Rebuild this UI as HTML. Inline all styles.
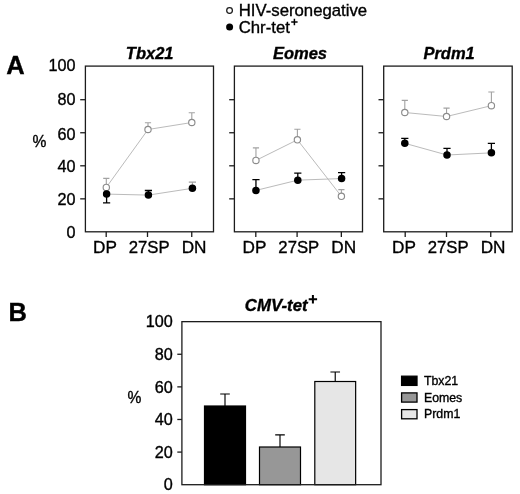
<!DOCTYPE html>
<html><head><meta charset="utf-8"><title>Figure</title>
<style>
html,body{margin:0;padding:0;background:#fff;}
svg{display:block;will-change:transform;}
text{font-family:"Liberation Sans",sans-serif;fill:#000;stroke:#000;stroke-width:0.35px;}
.t{font-size:16.5px;}
.yl{font-size:16.2px;}
.xl{font-size:17.2px;}
.lg{font-size:16.75px;}
.s{font-size:12.3px;}
.tb{font-size:16.8px;}
.pc{font-size:17px;}
.bi{font-weight:bold;font-style:italic;}
.pl{font-size:25.5px;font-weight:bold;}
.m{text-anchor:middle;}
.e{text-anchor:end;}
.ax{stroke:#1c1c1c;stroke-width:1.3;}
.box{fill:none;stroke:#1c1c1c;stroke-width:1.3;}
.box2{fill:none;stroke:#222;stroke-width:1;}
.ln{fill:none;stroke:#bbbbbb;stroke-width:1;}
.eo{fill:none;stroke:#a2a2a2;stroke-width:1.1;}
.eb{fill:none;stroke:#000;stroke-width:1.3;}
.co{fill:#fff;stroke:#8c8c8c;stroke-width:1.15;}
.cb{fill:#000;}
</style></head>
<body>
<svg width="520" height="494" viewBox="0 0 520 494">
<rect width="520" height="494" fill="#fff"/>
<line x1="80.20" y1="198.85" x2="85.40" y2="198.85" class="ax"/>
<line x1="80.20" y1="165.80" x2="85.40" y2="165.80" class="ax"/>
<line x1="80.20" y1="132.75" x2="85.40" y2="132.75" class="ax"/>
<line x1="80.20" y1="99.70" x2="85.40" y2="99.70" class="ax"/>
<line x1="106.20" y1="231.80" x2="106.20" y2="237.00" class="ax"/>
<line x1="147.50" y1="231.80" x2="147.50" y2="237.00" class="ax"/>
<line x1="191.75" y1="231.80" x2="191.75" y2="237.00" class="ax"/>
<polyline points="106.30,187.40 148.00,129.50 191.80,122.50" class="ln"/>
<polyline points="106.60,194.10 148.40,195.10 192.40,188.30" class="ln"/>
<path d="M106.30 187.40V178.40M103.20 178.40H109.40" class="eo"/>
<path d="M148.00 129.50V122.80M144.90 122.80H151.10" class="eo"/>
<path d="M191.80 122.50V112.80M188.70 112.80H194.90" class="eo"/>
<path d="M106.60 194.10V202.90M103.00 202.90H110.20" class="eb"/>
<path d="M148.40 195.10V190.50M144.80 190.50H152.00" class="eb"/>
<path d="M192.40 188.30V182.10M188.80 182.10H196.00" class="eo"/>
<circle cx="106.30" cy="187.40" r="3.15" class="co"/>
<circle cx="148.00" cy="129.50" r="3.15" class="co"/>
<circle cx="191.80" cy="122.50" r="3.15" class="co"/>
<circle cx="106.60" cy="194.10" r="3.75" class="cb"/>
<circle cx="148.40" cy="195.10" r="3.75" class="cb"/>
<circle cx="192.40" cy="188.30" r="3.75" class="cb"/>
<rect x="85.40" y="66.10" width="128.10" height="165.70" class="box"/>
<text x="93.00" y="253" class="xl">DP</text>
<text x="128.75" y="253" textLength="40.9" lengthAdjust="spacingAndGlyphs" class="xl">27SP</text>
<text x="181.70" y="253" class="xl">DN</text>
<text x="125.80" y="59.1" class="t bi">Tbx21</text>
<line x1="229.20" y1="198.85" x2="234.40" y2="198.85" class="ax"/>
<line x1="229.20" y1="165.80" x2="234.40" y2="165.80" class="ax"/>
<line x1="229.20" y1="132.75" x2="234.40" y2="132.75" class="ax"/>
<line x1="229.20" y1="99.70" x2="234.40" y2="99.70" class="ax"/>
<line x1="255.80" y1="231.80" x2="255.80" y2="237.00" class="ax"/>
<line x1="297.10" y1="231.80" x2="297.10" y2="237.00" class="ax"/>
<line x1="341.35" y1="231.80" x2="341.35" y2="237.00" class="ax"/>
<polyline points="255.95,160.40 297.40,139.80 341.40,196.30" class="ln"/>
<polyline points="255.95,190.40 297.80,180.15 341.60,178.55" class="ln"/>
<path d="M255.95 160.40V147.85M252.85 147.85H259.05" class="eo"/>
<path d="M297.40 139.80V129.30M294.30 129.30H300.50" class="eo"/>
<path d="M341.40 196.30V189.60M338.30 189.60H344.50" class="eo"/>
<path d="M255.95 190.40V179.60M252.35 179.60H259.55" class="eb"/>
<path d="M297.80 180.15V173.10M294.20 173.10H301.40" class="eb"/>
<path d="M341.60 178.55V172.60M338.00 172.60H345.20" class="eb"/>
<circle cx="255.95" cy="160.40" r="3.15" class="co"/>
<circle cx="297.40" cy="139.80" r="3.15" class="co"/>
<circle cx="341.40" cy="196.30" r="3.15" class="co"/>
<circle cx="255.95" cy="190.40" r="3.75" class="cb"/>
<circle cx="297.80" cy="180.15" r="3.75" class="cb"/>
<circle cx="341.60" cy="178.55" r="3.75" class="cb"/>
<rect x="234.40" y="66.10" width="128.10" height="165.70" class="box"/>
<text x="242.60" y="253" class="xl">DP</text>
<text x="278.35" y="253" textLength="40.9" lengthAdjust="spacingAndGlyphs" class="xl">27SP</text>
<text x="331.30" y="253" class="xl">DN</text>
<text x="272.90" y="59.1" class="t bi">Eomes</text>
<line x1="378.50" y1="198.85" x2="383.70" y2="198.85" class="ax"/>
<line x1="378.50" y1="165.80" x2="383.70" y2="165.80" class="ax"/>
<line x1="378.50" y1="132.75" x2="383.70" y2="132.75" class="ax"/>
<line x1="378.50" y1="99.70" x2="383.70" y2="99.70" class="ax"/>
<line x1="405.20" y1="231.80" x2="405.20" y2="237.00" class="ax"/>
<line x1="446.50" y1="231.80" x2="446.50" y2="237.00" class="ax"/>
<line x1="490.75" y1="231.80" x2="490.75" y2="237.00" class="ax"/>
<polyline points="404.80,112.50 446.55,116.50 491.40,105.65" class="ln"/>
<polyline points="404.80,143.30 447.00,155.00 491.40,152.85" class="ln"/>
<path d="M404.80 112.50V100.40M401.70 100.40H407.90" class="eo"/>
<path d="M446.55 116.50V108.15M443.45 108.15H449.65" class="eo"/>
<path d="M491.40 105.65V91.95M488.30 91.95H494.50" class="eo"/>
<path d="M404.80 143.30V138.40M401.20 138.40H408.40" class="eb"/>
<path d="M447.00 155.00V148.30M443.40 148.30H450.60" class="eb"/>
<path d="M491.40 152.85V143.30M487.80 143.30H495.00" class="eb"/>
<circle cx="404.80" cy="112.50" r="3.15" class="co"/>
<circle cx="446.55" cy="116.50" r="3.15" class="co"/>
<circle cx="491.40" cy="105.65" r="3.15" class="co"/>
<circle cx="404.80" cy="143.30" r="3.75" class="cb"/>
<circle cx="447.00" cy="155.00" r="3.75" class="cb"/>
<circle cx="491.40" cy="152.85" r="3.75" class="cb"/>
<rect x="383.70" y="66.10" width="128.50" height="165.70" class="box"/>
<text x="392.00" y="253" class="xl">DP</text>
<text x="427.75" y="253" textLength="40.9" lengthAdjust="spacingAndGlyphs" class="xl">27SP</text>
<text x="480.70" y="253" class="xl">DN</text>
<text x="423.45" y="59.1" class="t bi">Prdm1</text>
<text x="75.6" y="238.00" class="yl e">0</text>
<text x="75.6" y="205.00" class="yl e">20</text>
<text x="75.6" y="172.00" class="yl e">40</text>
<text x="75.6" y="140.00" class="yl e">60</text>
<text x="75.6" y="105.00" class="yl e">80</text>
<text x="75.6" y="71.00" class="yl e">100</text>
<text x="32.5" y="147" class="pc" textLength="13.9" lengthAdjust="spacingAndGlyphs">%</text>
<text x="15.4" y="73.6" class="pl m">A</text>
<text x="17.6" y="321.3" class="pl m">B</text>
<circle cx="229.55" cy="10.5" r="2.85" fill="#fff" stroke="#1a1a1a" stroke-width="1.25"/>
<circle cx="229.6" cy="26.9" r="3.5" fill="#000"/>
<text x="238.7" y="16" class="lg">HIV-seronegative</text>
<text x="238.7" y="32.6" class="lg">Chr-tet</text>
<path d="M294.4 18.8V25.2M291.2 22H297.6" stroke="#000" stroke-width="1.5" fill="none"/>
<line x1="177.30" y1="452.09" x2="181.90" y2="452.09" class="ax"/>
<line x1="177.30" y1="419.48" x2="181.90" y2="419.48" class="ax"/>
<line x1="177.30" y1="386.87" x2="181.90" y2="386.87" class="ax"/>
<line x1="177.30" y1="354.26" x2="181.90" y2="354.26" class="ax"/>
<text x="172.7" y="490.40" class="yl e">0</text>
<text x="172.7" y="457.79" class="yl e">20</text>
<text x="172.7" y="425.18" class="yl e">40</text>
<text x="172.7" y="392.57" class="yl e">60</text>
<text x="172.7" y="359.96" class="yl e">80</text>
<text x="172.7" y="327.35" class="yl e">100</text>
<text x="127.4" y="403" class="pc" textLength="13.9" lengthAdjust="spacingAndGlyphs">%</text>
<path d="M225.00 406.00V394.00M220.20 394.00H229.80" class="eb" style="stroke-width:1.15"/>
<rect x="204.50" y="406.00" width="41.00" height="78.70" fill="#000" stroke="#000" stroke-width="1.2"/>
<path d="M280.00 447.00V434.80M275.20 434.80H284.80" class="eb" style="stroke-width:1.15"/>
<rect x="259.50" y="447.00" width="41.00" height="37.70" fill="#979797" stroke="#000" stroke-width="1.2"/>
<path d="M335.23 381.50V372.00M330.43 372.00H340.03" class="eb" style="stroke-width:1.15"/>
<rect x="314.80" y="381.50" width="40.85" height="103.20" fill="#e6e6e6" stroke="#000" stroke-width="1.2"/>
<rect x="181.9" y="321.65" width="199.1" height="163.05" class="box"/>
<text x="244.8" y="311" class="tb bi">CMV-tet</text>
<path d="M312.9 295.0V303.4M308.7 299.2H317.1" stroke="#000" stroke-width="2" fill="none"/>
<rect x="401.6" y="376.20" width="15.4" height="9.2" fill="#000" stroke="#000" stroke-width="1.3"/>
<text x="424" y="385.00" class="s">Tbx21</text>
<rect x="401.6" y="392.90" width="15.4" height="9.2" fill="#979797" stroke="#000" stroke-width="1.3"/>
<text x="424" y="401.70" class="s">Eomes</text>
<rect x="401.6" y="409.60" width="15.4" height="9.2" fill="#e6e6e6" stroke="#000" stroke-width="1.3"/>
<text x="424" y="418.40" class="s">Prdm1</text>
</svg>
</body></html>
